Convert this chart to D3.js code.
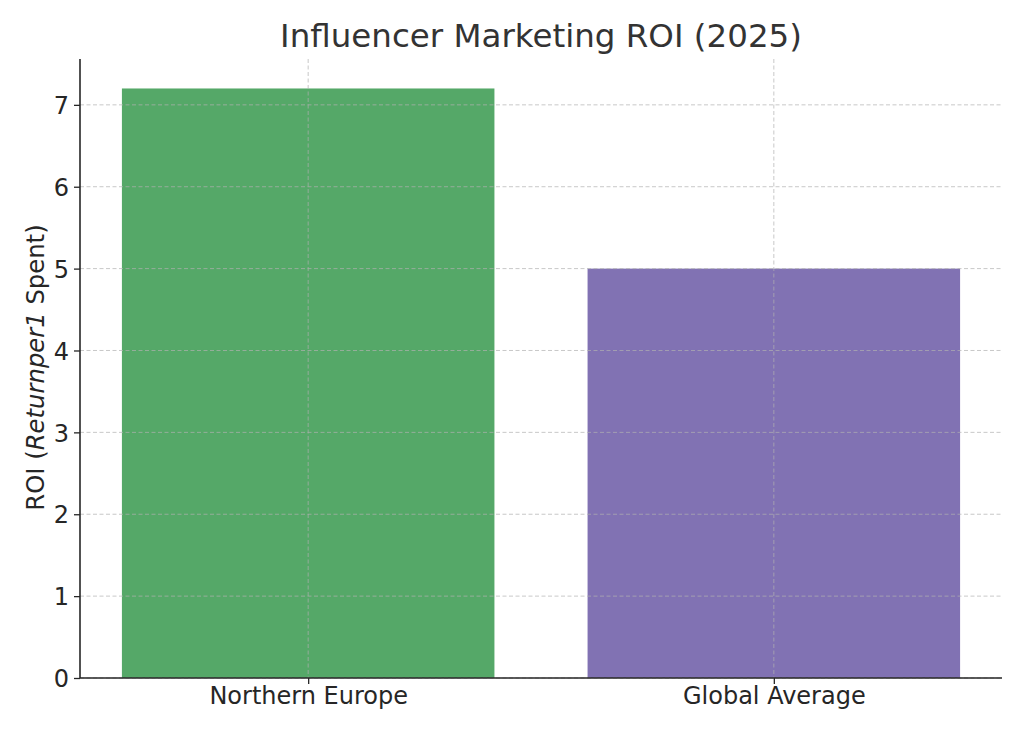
<!DOCTYPE html>
<html>
<head>
<meta charset="utf-8">
<script src="https://cdn.jsdelivr.net/npm/d3@7"></script>
<style>
  html, body { margin: 0; padding: 0; background: #fff; }
  svg { display: block; font-family: "DejaVu Sans", sans-serif; }
</style>
</head>
<body>
<svg id="chart" width="1024" height="731"></svg>
<script>
const categories = ["Northern Europe", "Global Average"];
const roiValues = [7.2, 5.0];
const barColors = ["#55a868", "#8172b3"];
const yTicks = [0, 1, 2, 3, 4, 5, 6, 7];
const titleText = "Influencer Marketing ROI (2025)";

const svg = d3.select("#chart");
const margin = { left: 80, right: 22, top: 59, bottom: 53 };
const W = 1024, H = 731;
const iw = W - margin.left - margin.right;
const ih = H - margin.top - margin.bottom;
const g = svg.append("g").attr("transform", `translate(${margin.left},${margin.top})`);

// matplotlib-like linear x with bar width 0.8 and 5% margins
const x = d3.scaleLinear().domain([-0.49, categories.length - 1 + 0.49]).range([0, iw]);
const barW = x(0.8) - x(0);
const yMax = d3.max(roiValues) * 1.05;
const y = d3.scaleLinear().domain([0, yMax]).range([ih, 0]);

// bars
g.selectAll("rect.bar").data(categories).enter().append("rect")
  .attr("class", "bar")
  .attr("x", (d, i) => x(i) - barW / 2)
  .attr("width", barW)
  .attr("y", (d, i) => y(roiValues[i]))
  .attr("height", (d, i) => y(0) - y(roiValues[i]))
  .attr("fill", (d, i) => barColors[i]);

// grid (above bars)
const grid = g.append("g").attr("class", "grid");
grid.selectAll("line.h").data(yTicks).enter().append("line")
  .attr("x1", 0).attr("x2", iw)
  .attr("y1", d => y(d)).attr("y2", d => y(d))
  .attr("stroke", "#b0b0b0").attr("stroke-opacity", 0.7)
  .attr("stroke-width", 1).attr("stroke-dasharray", "4,2.5");
grid.selectAll("line.v").data(categories).enter().append("line")
  .attr("y1", 0).attr("y2", ih)
  .attr("x1", (d, i) => x(i)).attr("x2", (d, i) => x(i))
  .attr("stroke", "#b0b0b0").attr("stroke-opacity", 0.7)
  .attr("stroke-width", 1).attr("stroke-dasharray", "4,2.5");

// axes
const yAxis = d3.axisLeft(y).tickValues(yTicks).tickFormat(d3.format("d")).tickSize(6).tickPadding(5);
const yG = g.append("g").call(yAxis);
const xAxis = d3.axisBottom(x).tickValues(categories.map((d, i) => i))
  .tickFormat(i => categories[i]).tickSize(6).tickPadding(4);
const xG = g.append("g").attr("transform", `translate(0,${ih})`).call(xAxis);

[yG, xG].forEach(a => {
  a.select(".domain").attr("stroke", "#262626").attr("stroke-width", 1.6);
  a.selectAll(".tick line").attr("stroke", "#262626").attr("stroke-width", 1.3);
  a.selectAll(".tick text").attr("fill", "#262626").style("font-size", "24px")
    .style("font-family", "'DejaVu Sans', sans-serif");
});
yG.selectAll(".tick text").attr("dy", "0.36em");
xG.selectAll(".tick text").attr("dy", "0.66em");
yG.select(".domain").attr("d", `M0,${ih}V0`);
xG.select(".domain").attr("d", `M0,0H${iw}`);

// title
svg.append("text").attr("x", margin.left + iw / 2).attr("y", 47)
  .attr("text-anchor", "middle").attr("fill", "#333333")
  .style("font-size", "32.5px").text(titleText);

// y label with italic mathtext portion
const yl = svg.append("text")
  .attr("transform", `translate(44,${margin.top + ih / 2 - 1}) rotate(-90)`)
  .attr("text-anchor", "middle").attr("fill", "#262626").style("font-size", "24.3px");
yl.append("tspan").text("ROI (");
yl.append("tspan").style("font-style", "italic").text("Returnper1");
yl.append("tspan").text(" Spent)");
</script>
</body>
</html>
